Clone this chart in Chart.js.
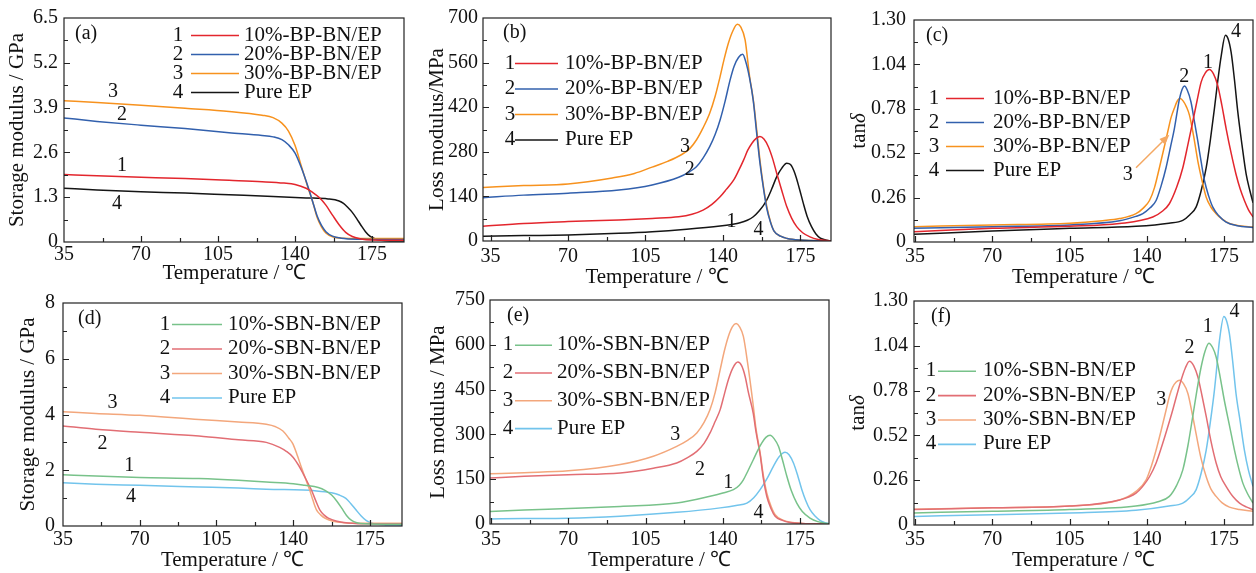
<!DOCTYPE html>
<html>
<head>
<meta charset="utf-8">
<script src="https://cdn.jsdelivr.net/npm/chart.js@4.4.1/dist/chart.umd.min.js"></script>
<style>
  html, body { margin: 0; padding: 0; background: #fff; }
  #wrap { position: relative; width: 1256px; height: 573px; overflow: hidden; }
  canvas { position: absolute; }
</style>
</head>
<body>
<div id="wrap">
  <canvas id="pa"></canvas>
  <canvas id="pb"></canvas>
  <canvas id="pc"></canvas>
  <canvas id="pd"></canvas>
  <canvas id="pe"></canvas>
  <canvas id="pf"></canvas>
</div>
<script>
// ================= DATA =================

const xTicks = [35, 70, 105, 140, 175];

const bpNames = ["10%-BP-BN/EP", "20%-BP-BN/EP", "30%-BP-BN/EP", "Pure EP"];
const sbnNames = ["10%-SBN-BN/EP", "20%-SBN-BN/EP", "30%-SBN-BN/EP", "Pure EP"];

const yTicksA = [0, 1.3, 2.6, 3.9, 5.2, 6.5];
const yLabelsA = ["0", "1.3", "2.6", "3.9", "5.2", "6.5"];
const yTicksB = [0, 140, 280, 420, 560, 700];
const yLabelsB = ["0", "140", "280", "420", "560", "700"];
const yTicksTan = [0, 0.26, 0.52, 0.78, 1.04, 1.30];
const yLabelsTan = ["0", "0.26", "0.52", "0.78", "1.04", "1.30"];
const yTicksD = [0, 2, 4, 6, 8];
const yLabelsD = ["0", "2", "4", "6", "8"];
const yTicksE = [0, 150, 300, 450, 600, 750];
const yLabelsE = ["0", "150", "300", "450", "600", "750"];

// (a) storage modulus, BP series  [temperature, GPa]
const a1 = [[35,1.96],[50,1.92],[70,1.88],[90,1.84],[110,1.79],[125,1.75],[135,1.71],[140,1.67],[145,1.56],[148,1.44],[151,1.29],[154,1.07],[157,0.78],[160,0.5],[163,0.28],[166,0.16],[170,0.09],[175,0.06],[190,0.05]];
const a2 = [[35,3.60],[50,3.50],[70,3.39],[90,3.29],[110,3.17],[125,3.09],[130,3.05],[134,2.97],[137,2.82],[140,2.58],[143,2.13],[146,1.58],[148,1.17],[150,0.76],[152,0.48],[154,0.30],[157,0.17],[161,0.11],[170,0.08],[190,0.07]];
const a3 = [[35,4.10],[50,4.05],[70,3.97],[90,3.88],[110,3.79],[125,3.68],[130,3.61],[134,3.45],[137,3.22],[140,2.80],[143,2.17],[146,1.55],[148,1.17],[150,0.72],[152,0.44],[154,0.26],[157,0.15],[162,0.11],[175,0.10],[190,0.10]];
const a4 = [[35,1.56],[50,1.51],[70,1.46],[90,1.42],[110,1.37],[130,1.32],[145,1.28],[155,1.25],[160,1.19],[162,1.12],[164,1.0],[166,0.86],[168,0.68],[170,0.48],[172,0.30],[174,0.17],[176,0.10],[179,0.05],[183,0.03],[190,0.03]];

// (b) loss modulus, BP series  [temperature, MPa]
const b1 = [[31.6,46],[50,55],[70,61],[93,66],[108,71],[120,76],[126,84],[131,97],[135,115],[138.7,139],[141.5,162],[144.8,191],[147,220],[149.3,254],[151.2,285],[153.1,307],[155,322],[156.7,328],[158.5,320],[160.5,296],[162.5,257],[164.3,212],[166.5,160],[168.8,108],[171,72],[173.3,45],[176,26],[179.3,13],[183,5],[189,0]];
const b2 = [[31.6,136],[50,144],[70,150],[93,160],[108,176],[120,200],[125,218],[128,233],[131,260],[134,296],[136.5,335],[138.7,380],[141,440],[143.2,505],[145,548],[147,576],[148.9,586],[150.2,565],[152,512],[153.7,440],[155.2,340],[156.7,245],[158.3,165],[159.8,102],[161.5,58],[163,32],[166,15],[169,8],[175,3],[189,0]];
const b3 = [[31.6,168],[50,174],[70,179],[90,198],[100,212],[108,232],[115,250],[121,270],[125,290],[128,317],[131,355],[134,401],[136.5,455],[138.7,516],[140.5,570],[142.4,620],[144.5,660],[146.5,680],[148,672],[150,631],[152,518],[153.7,443],[155.3,345],[156.7,254],[158.3,170],[159.8,108],[161.5,60],[163,32],[166,15],[169,8],[175,3],[189,0]];
const b4 = [[31.6,15],[50,17],[70,19],[93,24],[108,29],[123.6,37],[138.7,47],[144,52],[147.7,57],[151,65],[153.7,76],[156.5,96],[158.3,112],[159.8,129],[162,163],[164.3,202],[166.5,228],[168.8,244],[170.5,240],[172.5,212],[174.5,165],[176.3,118],[178,78],[180,45],[182,22],[183.8,10],[186,4],[189,0]];

// (c) tan delta, BP series
const c1 = [[34.5,0.06],[70,0.08],[105,0.092],[127.6,0.108],[142.7,0.146],[147,0.18],[150.2,0.224],[153.5,0.32],[156.3,0.435],[158.6,0.57],[160.8,0.705],[162.8,0.83],[164.6,0.936],[166.5,0.99],[168.3,1.01],[170.2,0.985],[172.1,0.917],[174,0.8],[175.9,0.666],[178.2,0.52],[180.4,0.397],[182.3,0.31],[184.2,0.243],[186,0.19],[188.1,0.146]];
const c2 = [[34.5,0.08],[70,0.09],[105,0.1],[127.6,0.124],[135,0.15],[138.2,0.166],[141.5,0.2],[144.2,0.243],[146.5,0.33],[148.7,0.435],[150.7,0.555],[152.5,0.666],[154.8,0.84],[156,0.895],[157,0.913],[158.3,0.89],[160,0.82],[161.5,0.71],[163.1,0.59],[164.6,0.47],[166.1,0.36],[168,0.27],[169.9,0.204],[172.5,0.155],[175.9,0.117],[181,0.095],[188.1,0.085]];
const c3 = [[34.5,0.09],[70,0.10],[105,0.11],[120,0.125],[127.6,0.137],[135.1,0.166],[138.5,0.2],[141.2,0.243],[143.5,0.32],[145.7,0.435],[147.6,0.54],[149.5,0.647],[151,0.73],[152.5,0.785],[154,0.83],[155.1,0.84],[156.5,0.825],[158,0.79],[159.3,0.743],[161.2,0.62],[163.1,0.474],[165,0.36],[166.9,0.262],[169,0.205],[171.4,0.166],[174,0.135],[177.4,0.108],[182,0.095],[188.1,0.088]];
const c4 = [[34.5,0.045],[70,0.065],[105,0.08],[135.1,0.092],[150,0.11],[156.3,0.127],[159.5,0.16],[162.3,0.204],[164.6,0.3],[166.9,0.435],[168.8,0.6],[170.6,0.78],[172.2,0.95],[173.7,1.09],[175.6,1.21],[176.8,1.19],[178.2,1.11],[179.7,0.95],[181.2,0.763],[183.1,0.57],[185,0.397],[186.7,0.3],[188.1,0.23]];

// (d) storage modulus, SBN series
const d1 = [[35,1.84],[50,1.79],[70,1.74],[97,1.70],[115,1.64],[127.7,1.58],[140,1.52],[145.3,1.46],[151.4,1.38],[154.5,1.28],[157.5,1.11],[160,0.88],[162.1,0.64],[164.3,0.38],[166.6,0.2],[169,0.12],[173,0.08],[189.6,0.06]];
const d2 = [[35,3.59],[50,3.47],[70,3.36],[97,3.23],[115,3.09],[127.7,3.0],[133.8,2.82],[137,2.67],[139.9,2.47],[142.5,2.17],[144.5,1.88],[146.5,1.57],[148.3,1.29],[150.3,0.9],[152.1,0.58],[154,0.4],[156,0.28],[160,0.17],[165,0.11],[175,0.08],[189.6,0.08]];
const d3 = [[35,4.10],[50,4.04],[70,3.97],[97,3.82],[115,3.73],[127.7,3.65],[132,3.56],[135.3,3.41],[138,3.15],[139.9,2.94],[142,2.5],[143.7,2.11],[145.5,1.72],[147.5,1.29],[149,0.92],[150.6,0.58],[152.5,0.4],[154.4,0.28],[158.2,0.17],[163,0.12],[170,0.1],[189.6,0.1]];
const d4 = [[35,1.55],[50,1.50],[70,1.46],[97,1.40],[115,1.36],[127.7,1.32],[150.7,1.26],[157.5,1.19],[161,1.11],[164,0.99],[166.3,0.8],[168.6,0.58],[171,0.36],[173.2,0.2],[175.5,0.11],[178.5,0.06],[182,0.04],[189.6,0.03]];

// (e) loss modulus, SBN series
const e1 = [[34.5,42],[50,47],[70,52],[93.5,59],[119.1,70],[134.2,93],[140,104],[144.8,115],[147.5,130],[149.3,148],[151.5,180],[153.8,215],[155.7,245],[157.6,271],[159.5,290],[161.4,297],[163.3,285],[165.2,260],[167,215],[169,160],[171,112],[173.5,70],[176,42],[179.5,20],[183,8],[188.1,0]];
const e2 = [[34.5,154],[50,160],[70,165],[93.5,171],[108.5,187],[119.1,204],[124,222],[128.2,243],[131.5,270],[134.2,305],[136.5,343],[138.8,383],[140.7,435],[142.5,483],[144.5,522],[146.8,542],[148.5,530],[150.1,494],[151.6,440],[153.8,370],[155,310],[156.9,232],[158.4,150],[159.9,93],[161.8,52],[163.7,26],[167,12],[170.5,5],[176,2],[188.1,0]];
const e3 = [[34.5,168],[50,172],[70,178],[93.5,199],[108.5,227],[119.1,260],[124,280],[128.2,305],[131.5,340],[134.2,383],[136.5,440],[138.8,517],[140.7,580],[142.5,628],[144.3,660],[146,671],[147.6,660],[149.3,628],[151.2,540],[153.8,395],[155,320],[156.9,238],[158.4,160],[159.9,104],[161.8,60],[163.7,31],[167,14],[170.5,6],[176,2],[188.1,0]];
const e4 = [[34.5,17],[50,18],[70,19],[93.5,26],[119.1,39],[138.8,54],[146,62],[150.9,70],[154,88],[156.9,115],[160,152],[162.9,193],[165.5,225],[168.2,240],[170,232],[172,204],[174,160],[175.8,115],[177.6,78],[179.5,48],[182,25],[184,12],[186,5],[188.1,1]];

// (f) tan delta, SBN series
const f1 = [[34.5,0.07],[70,0.08],[105,0.09],[135,0.11],[145,0.135],[150.2,0.166],[153.5,0.23],[156.3,0.32],[158.6,0.46],[160.8,0.63],[162.8,0.79],[164.6,0.917],[166.4,1.01],[168.1,1.055],[169.8,1.03],[171.4,0.975],[173.2,0.86],[175.1,0.724],[177.4,0.58],[179.7,0.435],[181.6,0.33],[183.5,0.243],[185.7,0.18],[188.1,0.127]];
const f2 = [[34.5,0.09],[70,0.10],[105,0.11],[127.6,0.145],[135.1,0.185],[138.5,0.23],[141.2,0.28],[144.2,0.36],[147.2,0.474],[149.5,0.57],[151.7,0.666],[153.7,0.76],[155.5,0.84],[157.4,0.91],[159.3,0.95],[161.2,0.925],[163.1,0.86],[165,0.75],[166.9,0.63],[169,0.49],[171.4,0.36],[173.5,0.28],[175.9,0.224],[179,0.165],[182,0.127],[185,0.105],[188.1,0.09]];
const f3 = [[34.5,0.092],[70,0.10],[105,0.11],[127.6,0.145],[135.1,0.195],[139.7,0.262],[142,0.34],[144.2,0.435],[146.5,0.55],[148.7,0.666],[150.3,0.75],[151.7,0.80],[153.3,0.83],[154.8,0.84],[156.6,0.82],[158.6,0.763],[160.5,0.65],[162.3,0.53],[164.5,0.39],[166.9,0.28],[169,0.21],[171.4,0.166],[174,0.13],[177.4,0.104],[182,0.09],[188.1,0.08]];
const f4 = [[34.5,0.05],[70,0.06],[105,0.07],[135,0.085],[150,0.11],[156.3,0.127],[159.5,0.16],[162.3,0.204],[164.6,0.3],[166.9,0.435],[168.8,0.6],[170.6,0.78],[171.8,0.93],[172.9,1.07],[174.9,1.21],[176,1.19],[177.4,1.11],[178.9,0.95],[180.4,0.763],[182.3,0.6],[184.2,0.435],[186,0.32],[188.1,0.224]];

// curve number labels [temperature, value, text]
const notesA = [[57.3,4.37,"3"],[61.4,3.68,"2"],[61.4,2.21,"1"],[59.1,1.12,"4"]];
const notesB = [[122.8,295,"3"],[125,223,"2"],[143.9,61,"1"],[156,35,"4"]];
const notesC = [[167.7,1.05,"1"],[157,0.965,"2"],[131.4,0.393,"3"],[180.4,1.23,"4"]];
const notesD = [[57.6,4.41,"3"],[53,2.94,"2"],[65.2,2.17,"1"],[66,1.05,"4"]];
const notesE = [[118.4,299,"3"],[129.7,182,"2"],[142.5,137,"1"],[156.1,37,"4"]];
const notesF = [[167.6,1.15,"1"],[159.3,1.03,"2"],[146.5,0.724,"3"],[179.7,1.235,"4"]];

// arrow in (c), from label 3 to curve 3
const arrowC = [[135.1, 0.435], [150.2, 0.628]];


// ================= STYLE =================

const bpColors = ["#e3262d", "#3260ad", "#f7921e", "#151515"];
const sbnColors = ["#78c28a", "#e26e74", "#f3a77c", "#72c4ec"];
const FONT = "'Liberation Serif', 'Times New Roman', serif";
const tickFont = { family: FONT, size: 20 };
const titleFont = { family: FONT, size: 21, lineHeight: 1 };

const extras = {};


// ================= DECOR PLUGIN =================

const decor = {
  id: "decor",
  afterDraw(chart) {
    const p = extras[chart.canvas.id];
    const ctx = chart.ctx;
    const a = chart.chartArea;
    const xs = chart.scales.x;
    const ys = chart.scales.y;

    ctx.save();
    ctx.strokeStyle = "#222";
    ctx.lineWidth = 1.2;
    ctx.strokeRect(a.left, a.top, a.right - a.left, a.bottom - a.top);

    // inward ticks, major and minor
    ctx.beginPath();
    const xStep = xTicks[1] - xTicks[0];
    for (let v = xTicks[0] - xStep / 2; v <= xs.max; v += xStep / 2) {
      if (v <= xs.min || v >= xs.max) continue;
      const len = xTicks.includes(v) ? 6 : 4;
      const px = Math.round(xs.getPixelForValue(v)) + 0.5;
      ctx.moveTo(px, a.bottom);
      ctx.lineTo(px, a.bottom - len);
    }
    const yt = p.yTicks;
    for (let i = 0; i < yt.length; i++) {
      const vals = [[yt[i], 6]];
      if (i < yt.length - 1) vals.push([(yt[i] + yt[i + 1]) / 2, 4]);
      vals.forEach(([v, len]) => {
        if (v <= ys.min || v >= ys.max) return;
        const py = Math.round(ys.getPixelForValue(v)) + 0.5;
        ctx.moveTo(a.left, py);
        ctx.lineTo(a.left + len, py);
      });
    }
    ctx.stroke();

    // panel tag
    ctx.fillStyle = "#111";
    ctx.font = "20px " + FONT;
    ctx.textBaseline = "middle";
    ctx.textAlign = "left";
    ctx.fillText(p.tag[0], a.left + p.tag[1], a.top + p.tag[2]);

    // legend
    const lg = p.legend;
    ctx.font = "21px " + FONT;
    p.names.forEach((name, i) => {
      const y = a.top + lg.y + i * lg.dy;
      ctx.fillStyle = "#111";
      ctx.textAlign = "center";
      ctx.fillText(String(i + 1), a.left + lg.num, y);
      ctx.textAlign = "left";
      ctx.fillText(name, a.left + lg.text, y);
      ctx.strokeStyle = p.colors[i];
      ctx.lineWidth = 1.6;
      ctx.beginPath();
      ctx.moveTo(a.left + lg.l1, y + 0.5);
      ctx.lineTo(a.left + lg.l2, y + 0.5);
      ctx.stroke();
    });

    // curve numbers
    ctx.fillStyle = "#111";
    ctx.font = "20px " + FONT;
    ctx.textAlign = "center";
    p.notes.forEach(([t, v, s]) => {
      ctx.fillText(s, xs.getPixelForValue(t), ys.getPixelForValue(v));
    });

    // arrow
    if (p.arrow) {
      const x0 = xs.getPixelForValue(p.arrow[0][0]), y0 = ys.getPixelForValue(p.arrow[0][1]);
      const x1 = xs.getPixelForValue(p.arrow[1][0]), y1 = ys.getPixelForValue(p.arrow[1][1]);
      const ang = Math.atan2(y1 - y0, x1 - x0);
      ctx.strokeStyle = "#f4a863";
      ctx.fillStyle = "#f4a863";
      ctx.lineWidth = 1.5;
      ctx.beginPath();
      ctx.moveTo(x0, y0);
      ctx.lineTo(x1 - 6 * Math.cos(ang), y1 - 6 * Math.sin(ang));
      ctx.stroke();
      ctx.beginPath();
      ctx.moveTo(x1, y1);
      ctx.lineTo(x1 - 10 * Math.cos(ang) + 4 * Math.sin(ang), y1 - 10 * Math.sin(ang) - 4 * Math.cos(ang));
      ctx.lineTo(x1 - 10 * Math.cos(ang) - 4 * Math.sin(ang), y1 - 10 * Math.sin(ang) + 4 * Math.cos(ang));
      ctx.closePath();
      ctx.fill();
    }

    // tan delta title, delta in italic
    if (p.tanX) {
      ctx.save();
      ctx.translate(p.tanX, (a.top + a.bottom) / 2);
      ctx.rotate(-Math.PI / 2);
      ctx.fillStyle = "#111";
      ctx.textAlign = "left";
      ctx.font = "21px " + FONT;
      const w1 = ctx.measureText("tan").width;
      ctx.font = "italic 21px " + FONT;
      const w2 = ctx.measureText("δ").width;
      ctx.font = "21px " + FONT;
      ctx.fillText("tan", -(w1 + w2) / 2, 0);
      ctx.font = "italic 21px " + FONT;
      ctx.fillText("δ", -(w1 + w2) / 2 + w1, 0);
      ctx.restore();
    }
    ctx.restore();
  }
};


// ================= CHART BUILDER =================

function makeChart(id, p) {
  const cv = document.getElementById(id);
  cv.width = p.box[2];
  cv.height = p.box[3];
  cv.style.left = p.box[0] + "px";
  cv.style.top = p.box[1] + "px";
  extras[id] = p;

  return new Chart(cv, {
    type: "line",
    data: {
      datasets: p.series.map((s, i) => ({
        data: s.map(d => ({ x: d[0], y: d[1] })),
        borderColor: p.colors[i],
        borderWidth: 1.5,
        pointRadius: 0,
        fill: false,
        cubicInterpolationMode: "monotone"
      }))
    },
    options: {
      responsive: false,
      animation: false,
      events: [],
      layout: { padding: { left: 0, top: p.area[1], right: p.box[2] - p.area[2], bottom: 0 } },
      plugins: { legend: { display: false }, tooltip: { enabled: false } },
      scales: {
        x: {
          type: "linear",
          min: p.xMin,
          max: p.xMax,
          grid: { display: false, drawTicks: false },
          border: { display: false },
          afterBuildTicks: s => { s.ticks = xTicks.map(v => ({ value: v })); },
          afterFit: s => { s.height = p.box[3] - p.area[3]; },
          ticks: { autoSkip: false, maxRotation: 0, padding: p.xPad, color: "#111", font: tickFont },
          title: { display: true, text: "Temperature / ℃", color: "#111", font: titleFont,
                   padding: { top: 0, bottom: p.xTitlePad } }
        },
        y: {
          type: "linear",
          min: p.yTicks[0],
          max: p.yTicks[p.yTicks.length - 1],
          grid: { display: false, drawTicks: false },
          border: { display: false },
          afterBuildTicks: s => { s.ticks = p.yTicks.map(v => ({ value: v })); },
          afterFit: s => { s.width = p.area[0]; },
          ticks: { autoSkip: false, padding: p.yPad, color: "#111", font: tickFont,
                   callback: (v, i) => p.yLabels[i] },
          title: { display: !!p.yTitle, text: p.yTitle || "", color: "#111", font: titleFont,
                   padding: { top: p.yTitlePad || 0, bottom: 0 } }
        }
      }
    },
    plugins: [decor]
  });
}


// ================= PANELS =================

makeChart("pa", {
  box: [0, 0, 420, 295], area: [64, 16, 404, 242],
  xMin: 35, xMax: 189.5, xPad: 1, xTitlePad: 11.5,
  yTicks: yTicksA, yLabels: yLabelsA, yPad: 6,
  yTitle: "Storage modulus / GPa", yTitlePad: 6.5,
  series: [a1, a2, a3, a4], colors: bpColors, names: bpNames,
  legend: { num: 114, l1: 127, l2: 175, text: 180, y: 17, dy: 19 },
  tag: ["(a)", 11, 16], notes: notesA
});

makeChart("pb", {
  box: [420, 0, 416, 295], area: [63, 18, 411, 241],
  xMin: 31.6, xMax: 188.8, xPad: 3.5, xTitlePad: 7.5,
  yTicks: yTicksB, yLabels: yLabelsB, yPad: 5,
  yTitle: "Loss modulus/MPa", yTitlePad: 6.5,
  series: [b1, b2, b3, b4], colors: bpColors, names: bpNames,
  legend: { num: 27, l1: 32, l2: 75, text: 82, y: 45, dy: 25.5 },
  tag: ["(b)", 20, 15], notes: notesB
});

makeChart("pc", {
  box: [836, 0, 420, 295], area: [78, 17, 417, 242],
  xMin: 34.5, xMax: 188.1, xPad: 2.5, xTitlePad: 7.5,
  yTicks: yTicksTan, yLabels: yLabelsTan, yPad: 8,
  tanX: 23,
  series: [c1, c2, c3, c4], colors: bpColors, names: bpNames,
  legend: { num: 20, l1: 32, l2: 70, text: 79, y: 78, dy: 24 },
  tag: ["(c)", 12, 16], notes: notesC, arrow: arrowC
});

makeChart("pd", {
  box: [0, 283, 420, 290], area: [63, 17, 402, 243],
  xMin: 35, xMax: 189.6, xPad: 1.5, xTitlePad: 2.5,
  yTicks: yTicksD, yLabels: yLabelsD, yPad: 8,
  yTitle: "Storage modulus / GPa", yTitlePad: 17.5,
  series: [d1, d2, d3, d4], colors: sbnColors, names: sbnNames,
  legend: { num: 102, l1: 109, l2: 159, text: 165, y: 21, dy: 24.5 },
  tag: ["(d)", 15, 16], notes: notesD
});

makeChart("pe", {
  box: [420, 283, 416, 290], area: [70, 17, 409, 241],
  xMin: 34.5, xMax: 188.1, xPad: 3.5, xTitlePad: 2.5,
  yTicks: yTicksE, yLabels: yLabelsE, yPad: 5,
  yTitle: "Loss modulus / MPa", yTitlePad: 7.5,
  series: [e1, e2, e3, e4], colors: sbnColors, names: sbnNames,
  legend: { num: 18, l1: 25, l2: 62, text: 67, y: 44.7, dy: 27.8 },
  tag: ["(e)", 17, 16], notes: notesE
});

makeChart("pf", {
  box: [836, 283, 420, 290], area: [78, 17, 417, 242],
  xMin: 34.5, xMax: 188.1, xPad: 2.5, xTitlePad: 2.5,
  yTicks: yTicksTan, yLabels: yLabelsTan, yPad: 6,
  tanX: 22,
  series: [f1, f2, f3, f4], colors: sbnColors, names: sbnNames,
  legend: { num: 17, l1: 24, l2: 62, text: 69, y: 69.7, dy: 24.4 },
  tag: ["(f)", 17, 16], notes: notesF
});
</script>
</body>
</html>
